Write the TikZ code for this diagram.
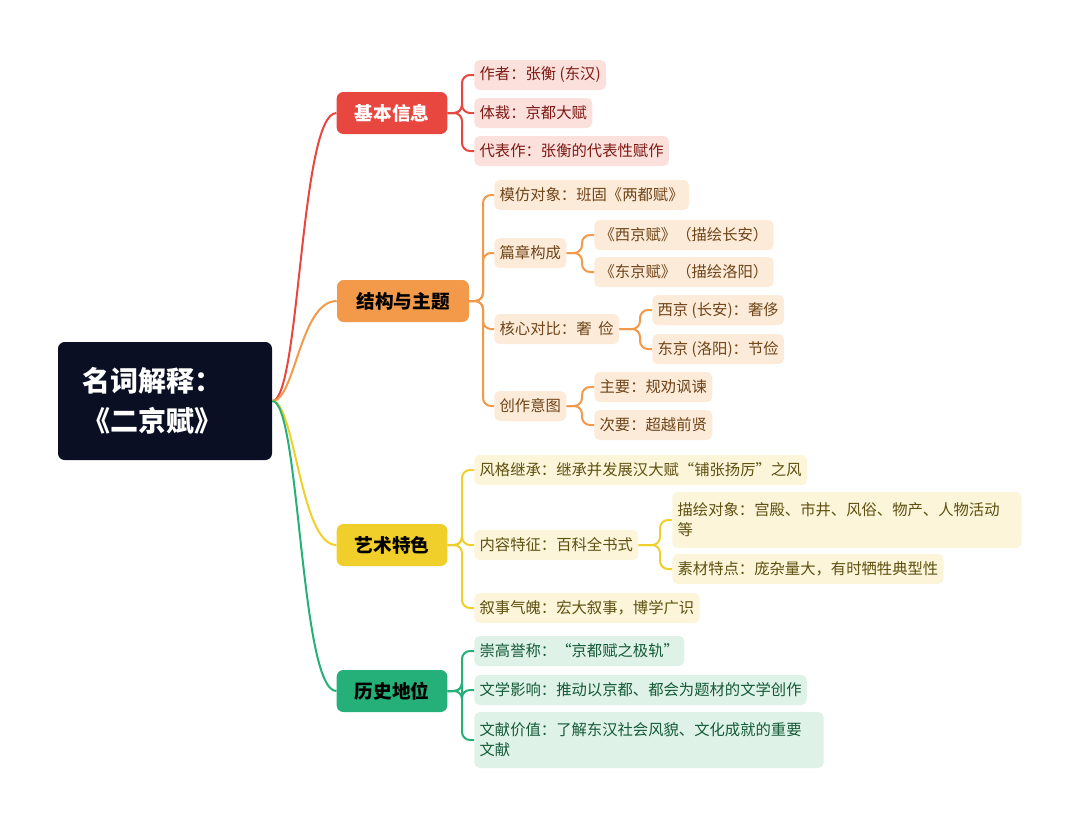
\documentclass[tikz,border=0pt]{standalone}
\usepackage{fontspec}
\setmainfont{Noto Sans CJK SC}
\usetikzlibrary{calc}
\definecolor{cR}{HTML}{E8473F}\definecolor{lR}{HTML}{FBE0DC}\definecolor{tR}{HTML}{7E1A14}
\definecolor{cO}{HTML}{F2994A}\definecolor{lO}{HTML}{FDEBD9}\definecolor{tO}{HTML}{6E4418}
\definecolor{cY}{HTML}{F0CF2A}\definecolor{lY}{HTML}{FCF5DA}\definecolor{tY}{HTML}{5E5010}
\definecolor{cG}{HTML}{25B07A}\definecolor{lG}{HTML}{DFF2E7}\definecolor{tG}{HTML}{145A36}
\definecolor{navy}{HTML}{0A0F24}
\begin{document}
\begin{tikzpicture}[x=0.75pt,y=-0.75pt,
 leaf/.style={rectangle,rounded corners=4pt,anchor=west,inner xsep=4pt,minimum height=22.5pt,font=\fontsize{11.5}{15}\selectfont,align=left},
 R/.style={leaf,fill=lR,text=tR},O/.style={leaf,fill=lO,text=tO},
 Y/.style={leaf,fill=lY,text=tY},G/.style={leaf,fill=lG,text=tG},
 br/.style={rectangle,rounded corners=5pt,minimum width=83pt,minimum height=31.5pt,font=\fontsize{14}{16}\selectfont\bfseries},
 ln/.style={line width=1.5pt,rounded corners=6pt}]
\useasboundingbox (0,0) rectangle (1080,826);
\node[fill=navy,rounded corners=5pt,minimum width=160.5pt,minimum height=88.5pt,inner xsep=18pt,text width=124pt,text=white,font=\fontsize{21}{30}\selectfont\bfseries,align=left] (root) at (165,401) {名词解释：\\《二京赋》};
\node[br,fill=cR,text=white] (b1) at (392,113) {基本信息};
\node[br,fill=cO,text=black,minimum width=99pt] (b2) at (403,301) {结构与主题};
\node[br,fill=cY,text=black] (b3) at (392,545) {艺术特色};
\node[br,fill=cG,text=black] (b4) at (392,691) {历史地位};
\draw[ln,cR] (root.east) .. controls (300,401) and (300,113) .. (b1.west);
\draw[ln,cO] (root.east) .. controls (295,401) and (300,301) .. (b2.west);
\draw[ln,cY] (root.east) .. controls (295,401) and (300,545) .. (b3.west);
\draw[ln,cG] (root.east) .. controls (300,401) and (300,691) .. (b4.west);
% red
\node[R] (r1) at (474,75) {作者：张衡 (东汉)};
\node[R] (r2) at (474,113) {体裁：京都大赋};
\node[R] (r3) at (474,151) {代表作：张衡的代表性赋作};
\foreach \c in {r1,r2,r3} \draw[ln,cR] (b1.east) -- (462,113) |- (\c.west);
% orange
\node[O] (o1) at (494,195) {模仿对象：班固《两都赋》};
\node[O] (o2) at (494,253) {篇章构成};
\node[O] (o3) at (494,329) {核心对比：奢\ \ 俭};
\node[O] (o4) at (494,406) {创作意图};
\foreach \c in {o1,o2,o3,o4} \draw[ln,cO] (b2.east) -- (483,301) |- (\c.west);
\node[O] (o21) at (594,235) {《西京赋》（描绘长安）};
\node[O] (o22) at (594,272) {《东京赋》（描绘洛阳）};
\foreach \c in {o21,o22} \draw[ln,cO] (o2.east) -- (582,253) |- (\c.west);
\node[O] (o31) at (652,310) {西京 (长安)：奢侈};
\node[O] (o32) at (652,349) {东京 (洛阳)：节俭};
\foreach \c in {o31,o32} \draw[ln,cO] (o3.east) -- (640,329) |- (\c.west);
\node[O] (o41) at (594,387) {主要：规劝讽谏};
\node[O] (o42) at (594,425) {次要：超越前贤};
\foreach \c in {o41,o42} \draw[ln,cO] (o4.east) -- (582,406) |- (\c.west);
% yellow
\node[Y] (y1) at (474,470) {风格继承：继承并发展汉大赋“铺张扬厉”之风};
\node[Y] (y2) at (474,545) {内容特征：百科全书式};
\node[Y] (y3) at (474,608) {叙事气魄：宏大叙事，博学广识};
\foreach \c in {y1,y2,y3} \draw[ln,cY] (b3.east) -- (462,545) |- (\c.west);
\node[Y,text width=254pt,minimum height=42pt] (y21) at (672,520) {描绘对象：宫殿、市井、风俗、物产、人物活动\\等};
\node[Y] (y22) at (672,569) {素材特点：庞杂量大，有时牺牲典型性};
\foreach \c in {y21,y22} \draw[ln,cY] (y2.east) -- (660,545) |- (\c.west);
% green
\node[G] (g1) at (474,651) {崇高誉称：“京都赋之极轨”};
\node[G] (g2) at (474,690) {文学影响：推动以京都、都会为题材的文学创作};
\node[G,text width=254pt,minimum height=42pt] (g3) at (474,740) {文献价值：了解东汉社会风貌、文化成就的重要\\文献};
\foreach \c in {g1,g2,g3} \draw[ln,cG] (b4.east) -- (462,691) |- (\c.west);
\end{tikzpicture}
\end{document}
